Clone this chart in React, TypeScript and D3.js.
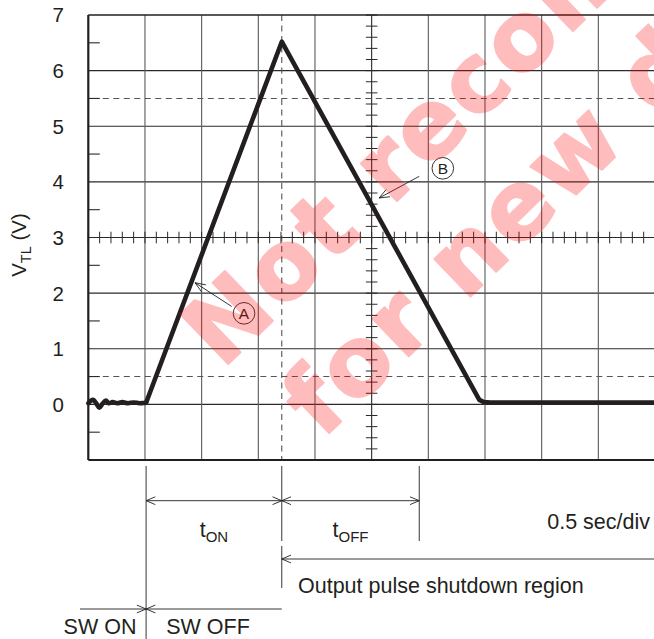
import React from 'react';
import * as d3 from 'd3';

// ---------- data ----------
const yTickValues = [0, 1, 2, 3, 4, 5, 6, 7];
const yHalfTicks = [-0.5, 0.5, 1.5, 2.5, 3.5, 4.5, 5.5, 6.5];
const xGridSec = [0.5, 1, 1.5, 2, 2.5, 3, 3.5, 4, 4.5];
const dashedLevels = [0.5, 5.5];

// idle noise before switch-off (time s, volts)
const noiseT = [0.0, 0.025, 0.045, 0.07, 0.097, 0.125, 0.155, 0.18, 0.215, 0.255, 0.3, 0.35, 0.4, 0.45, 0.485, 0.51];
const noiseV = [0.02, 0.07, 0.08, 0.02, -0.06, 0.01, 0.07, 0.02, 0.04, 0.02, 0.04, 0.02, 0.035, 0.02, 0.025, 0.03];

// ramp (time s, volts)
const rampT = [0.51, 1.707, 3.45, 3.49, 3.55, 5.05];
const rampV = [0.03, 6.52, 0.08, 0.04, 0.035, 0.035];

const tSwitchOff = 0.51;
const tPeak = 1.707;
const tOffEnd = 2.92;

const yTitle = 'V';
const yTitleSub = 'TL';
const yTitleUnit = ' (V)';
const tOnLabel = ['t', 'ON'];
const tOffLabel = ['t', 'OFF'];
const timebaseLabel = '0.5 sec/div';
const shutdownLabel = 'Output pulse shutdown region';
const swOnLabel = 'SW ON';
const swOffLabel = 'SW OFF';
const watermarkLines = ['Not recommended', 'for new designs'];

// callouts
const calloutA = { tip: [0.942, 2.187], tail: [1.265, 1.76], circle: [1.374, 1.637], label: 'A' };
const calloutB = { tip: [2.566, 3.71], tail: [2.92, 4.1], circle: [3.128, 4.244], label: 'B' };

// ---------- layout ----------
const W = 654;
const H = 639;
const P = { left: 88.3, right: 655, top: 15, bottom: 460 };
const FONT = '"Liberation Sans", Arial, Helvetica, sans-serif';
const WM_FONT = '"DejaVu Sans", Verdana, sans-serif';
const INK = '#231f20';

const x = d3.scaleLinear().domain([0, 5]).range([P.left, P.right]);
const y = d3.scaleLinear().domain([-1, 7]).range([P.bottom, P.top]);

function chevron(cx: number, cy: number, dx: number, dy: number, len = 10, half = 0.4) {
  const n = Math.hypot(dx, dy);
  const ux = dx / n, uy = dy / n;
  const a1 = Math.atan2(-uy, -ux) + half;
  const a2 = Math.atan2(-uy, -ux) - half;
  return `M${cx + len * Math.cos(a1)},${cy + len * Math.sin(a1)}L${cx},${cy}L${cx + len * Math.cos(a2)},${cy + len * Math.sin(a2)}`;
}

export default function App() {
  const noisePts = noiseT.map((t, i) => [t, noiseV[i]] as [number, number]);
  const rampPts = rampT.map((t, i) => [t, rampV[i]] as [number, number]);
  const noiseLine = d3.line<[number, number]>().x(d => x(d[0])).y(d => y(d[1])).curve(d3.curveCatmullRom.alpha(0.5));
  const rampLine = d3.line<[number, number]>().x(d => x(d[0])).y(d => y(d[1])).curve(d3.curveLinear);

  const minorH = d3.range(0, 51).map(i => i * 0.1);
  const minorV = d3.range(0, 41).map(i => -1 + i * 0.2);

  const callout = (c: typeof calloutA) => {
    const tx = x(c.tip[0]), ty = y(c.tip[1]);
    const sx = x(c.tail[0]), sy = y(c.tail[1]);
    const cx = x(c.circle[0]), cy = y(c.circle[1]);
    return (
      <g key={c.label}>
        <line x1={sx} y1={sy} x2={tx} y2={ty} stroke={INK} strokeWidth={0.9} />
        <path d={chevron(tx, ty, tx - sx, ty - sy, 11, 0.38)} fill="none" stroke={INK} strokeWidth={0.9} />
        <circle cx={cx} cy={cy} r={10.8} fill="none" stroke={INK} strokeWidth={0.9} />
        <text x={cx} y={cy + 5.5} textAnchor="middle" fontSize={15.5} fontFamily={FONT} fill={INK}>{c.label}</text>
      </g>
    );
  };

  const xs = x(tSwitchOff), xp = x(tPeak), xe = x(tOffEnd);
  const yArr = 500.7;
  const yShut = 559;
  const ySw = 609;

  return (
    <svg width={W} height={H} viewBox={`0 0 ${W} ${H}`} style={{ position: 'absolute', left: 0, top: 0, background: '#fff' }}>
      <rect x={0} y={0} width={W} height={H} fill="#fff" />
      {yTickValues.filter(v => v > -1 && v < 7).map(v => (
        <line key={'h' + v} x1={P.left} x2={P.right} y1={y(v)} y2={y(v)} stroke="#2a2a2a" strokeWidth={1.1} />
      ))}
      {xGridSec.map(t => (
        <line key={'v' + t} x1={x(t)} x2={x(t)} y1={P.top} y2={P.bottom} stroke={t === 2.5 ? '#2a2a2a' : '#5a5a5a'} strokeWidth={1.1} />
      ))}
      {dashedLevels.map(v => (
        <line key={'d' + v} x1={P.left + 4} x2={P.right} y1={y(v)} y2={y(v)} stroke="#555" strokeWidth={1.1} strokeDasharray="6,4.5" />
      ))}
      <line x1={xp} x2={xp} y1={P.top} y2={P.bottom} stroke="#555" strokeWidth={1.1} strokeDasharray="6,4.5" />
      {minorH.map((t, i) => (
        <line key={'mh' + i} x1={x(t)} x2={x(t)} y1={y(3) - 5.8} y2={y(3) + 5.8} stroke="#2a2a2a" strokeWidth={1} />
      ))}
      {minorV.map((v, i) => (
        <line key={'mv' + i} x1={x(2.5) - 5.8} x2={x(2.5) + 5.8} y1={y(v)} y2={y(v)} stroke="#2a2a2a" strokeWidth={1} />
      ))}
      {yHalfTicks.map(v => (
        <line key={'lt' + v} x1={P.left} x2={P.left + 11.5} y1={y(v)} y2={y(v)} stroke="#2a2a2a" strokeWidth={1.1} />
      ))}
      <line x1={P.left} x2={P.right} y1={P.top} y2={P.top} stroke={INK} strokeWidth={1.6} />
      <line x1={P.left} x2={P.right} y1={P.bottom} y2={P.bottom} stroke={INK} strokeWidth={2} />
      <line x1={P.left} x2={P.left} y1={P.top} y2={P.bottom} stroke={INK} strokeWidth={2.2} />

      <path d={noiseLine(noisePts) || ''} fill="none" stroke={INK} strokeWidth={4.6} strokeLinejoin="round" strokeLinecap="round" />
      <path d={rampLine(rampPts) || ''} fill="none" stroke={INK} strokeWidth={4.6} strokeLinejoin="round" strokeLinecap="round" />

      {callout(calloutA)}
      {callout(calloutB)}

      {yTickValues.map(v => (
        <text key={'yl' + v} x={64} y={y(v) + 7.4} textAnchor="end" fontSize={20.5} fontFamily={FONT} fill={INK}>{v}</text>
      ))}
      <text transform={`translate(26,245) rotate(-90)`} textAnchor="middle" fontSize={20.5} fontFamily={FONT} fill={INK}>
        {yTitle}
        <tspan fontSize={14.5} dy={5}>{yTitleSub}</tspan>
        <tspan dy={-5}>{yTitleUnit}</tspan>
      </text>

      <g stroke={INK} strokeWidth={0.9} fill="none">
        <line x1={xs} x2={xs} y1={466} y2={H} />
        <line x1={xp} x2={xp} y1={466} y2={541} />
        <line x1={xp} x2={xp} y1={546} y2={588} />
        <line x1={xe} x2={xe} y1={466} y2={541} />
        <line x1={xs} x2={xe} y1={yArr} y2={yArr} />
        <path d={chevron(xs, yArr, -1, 0)} />
        <path d={chevron(xp, yArr, 1, 0)} />
        <path d={chevron(xp, yArr, -1, 0)} />
        <path d={chevron(xe, yArr, 1, 0)} />
        <line x1={xp} x2={W} y1={yShut} y2={yShut} />
        <path d={chevron(xp, yShut, -1, 0)} />
        <line x1={80} x2={xp} y1={ySw} y2={ySw} />
        <path d={chevron(xs, ySw, 1, 0)} />
        <path d={chevron(xs, ySw, -1, 0)} />
      </g>
      <g fontFamily={FONT} fill={INK} fontSize={21.5}>
        <text x={(xs + xp) / 2} y={537} textAnchor="middle">
          {tOnLabel[0]}<tspan fontSize={15} dy={5}>{tOnLabel[1]}</tspan>
        </text>
        <text x={(xp + xe) / 2} y={537} textAnchor="middle">
          {tOffLabel[0]}<tspan fontSize={15} dy={5}>{tOffLabel[1]}</tspan>
        </text>
        <text x={650} y={529} textAnchor="end">{timebaseLabel}</text>
        <text x={298} y={593}>{shutdownLabel}</text>
        <text x={100} y={634} textAnchor="middle">{swOnLabel}</text>
        <text x={208} y={634} textAnchor="middle">{swOffLabel}</text>
      </g>

      <g opacity={0.26} fill="#ff0000" stroke="#ff0000" strokeWidth={2} strokeLinejoin="round" fontFamily={WM_FONT} fontWeight={700} fontSize={95} letterSpacing={3}>
        <text transform="translate(222,370) rotate(-44)">{watermarkLines[0]}</text>
        <text transform="translate(322,440) rotate(-44)">{watermarkLines[1]}</text>
      </g>
    </svg>
  );
}
